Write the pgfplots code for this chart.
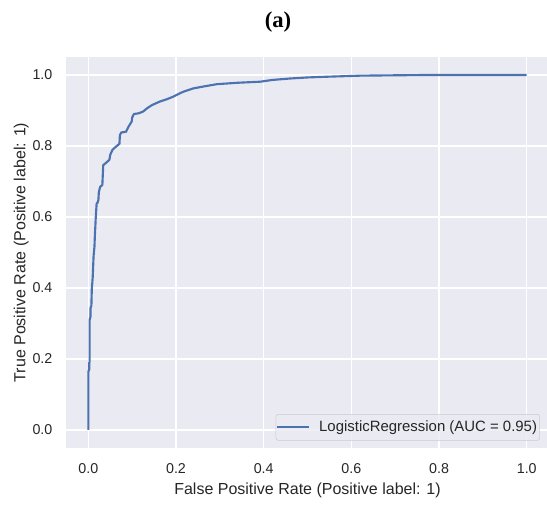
\documentclass[border=0pt]{standalone}
\usepackage{fontspec}
\setmainfont{Liberation Sans}
\newfontfamily\titlefont{Liberation Serif}
\usepackage{pgfplots}
\pgfplotsset{compat=1.18}
\definecolor{bgc}{HTML}{EAEAF2}
\definecolor{txt}{HTML}{262626}
\definecolor{roc}{HTML}{4C72B0}
\definecolor{legedge}{HTML}{CCCCCC}

\begin{document}
\begin{tikzpicture}
\path[use as bounding box] (-49.8pt,-43.69pt) rectangle (360.45pt,335.81pt);
\begin{axis}[
  at={(0pt,0pt)}, anchor=south west,
  scale only axis, width=361.7pt, height=292.9pt,
  xmin=-0.05, xmax=1.05, ymin=-0.05, ymax=1.05,
  axis background/.style={fill=bgc},
  axis line style={draw=none},
  major tick length=0pt,
  grid=major, grid style={white, line width=1.1pt},
  xtick={0,0.2,0.4,0.6,0.8,1.0}, ytick={0,0.2,0.4,0.6,0.8,1.0},
  /pgf/number format/assume math mode=true,
  /pgf/number format/fixed,
  /pgf/number format/fixed zerofill,
  /pgf/number format/precision=1,
  ticklabel style={font=\fontsize{10.7}{12}\selectfont, text=txt},
  xticklabel style={yshift=-8.6pt},
  yticklabel style={xshift=-7pt},
  xlabel={False Positive Rate (Positive label: 1)},
  ylabel={True Positive Rate (Positive label: 1)},
  label style={font=\fontsize{12}{14}\selectfont, text=txt},
  xlabel style={at={(axis description cs:0.5,-0.0785)}, anchor=north},
  ylabel style={at={(axis description cs:-0.0683,0.5)}, anchor=south},
  legend style={at={(rel axis cs:0.982,0.018)}, anchor=south east,
    fill=bgc, fill opacity=0.8, text opacity=1, draw=legedge, rounded corners=2pt,
    font=\fontsize{11.2}{13}\selectfont, text=txt, inner xsep=0pt, inner ysep=3pt,
    column sep=5pt},
  legend cell align=left,
  legend image code/.code={\draw[#1] (0pt,0pt) -- (23.8pt,0pt);},
]
\addplot[roc, line width=1.6pt, line join=round] coordinates {
(0,0) (0,0.164) (0.002,0.17) (0.002,0.19) (0.003,0.19) (0.003,0.31)
(0.005,0.32) (0.005,0.343) (0.007,0.35) (0.008,0.40) (0.009,0.413)
(0.010,0.43) (0.011,0.46) (0.012,0.49) (0.014,0.516) (0.015,0.55)
(0.016,0.573) (0.017,0.60) (0.019,0.638) (0.021,0.64) (0.023,0.648)
(0.024,0.67) (0.027,0.685) (0.032,0.69) (0.034,0.746) (0.040,0.752)
(0.048,0.761) (0.050,0.775) (0.055,0.789) (0.062,0.797) (0.071,0.806)
(0.072,0.83) (0.075,0.838) (0.086,0.840) (0.092,0.855) (0.099,0.869)
(0.100,0.880) (0.104,0.890) (0.115,0.892) (0.125,0.897) (0.135,0.907)
(0.145,0.915) (0.163,0.925) (0.180,0.932) (0.194,0.939) (0.205,0.946)
(0.217,0.953) (0.239,0.962) (0.265,0.968) (0.293,0.974) (0.340,0.978)
(0.392,0.981) (0.420,0.986) (0.46,0.990) (0.50,0.993) (0.544,0.995)
(0.62,0.998) (0.696,0.999) (0.78,1.0) (1.0,1.0)
};
\addlegendentry{LogisticRegression (AUC = 0.95)}
\end{axis}
\node[font=\titlefont\bfseries\fontsize{17}{20}\selectfont] at (158.7pt,318.9pt) {(a)};
\end{tikzpicture}
\end{document}
